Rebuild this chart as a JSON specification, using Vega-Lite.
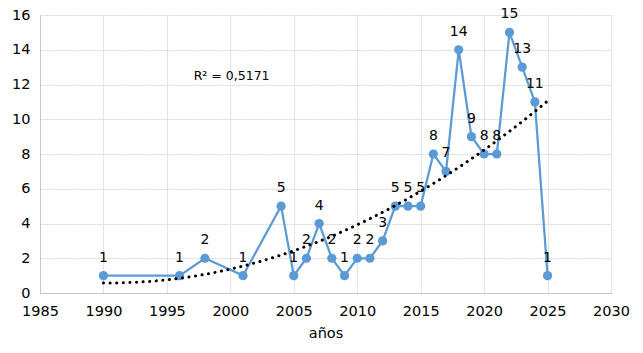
{
  "$schema": "https://vega.github.io/schema/vega-lite/v6.json",
  "autosize": {"type": "none"},
  "padding": {"left": 40, "top": 15, "right": 32, "bottom": 60},
  "width": 571,
  "height": 278,
  "background": "white",
  "config": {
    "view": {"stroke": null},
    "font": "DejaVu Sans"
  },
  "data": {
    "values": [
      {"year": 1990, "n": 1}, {"year": 1996, "n": 1}, {"year": 1998, "n": 2},
      {"year": 2001, "n": 1}, {"year": 2004, "n": 5}, {"year": 2005, "n": 1},
      {"year": 2006, "n": 2}, {"year": 2007, "n": 4}, {"year": 2008, "n": 2},
      {"year": 2009, "n": 1}, {"year": 2010, "n": 2}, {"year": 2011, "n": 2},
      {"year": 2012, "n": 3}, {"year": 2013, "n": 5}, {"year": 2014, "n": 5},
      {"year": 2015, "n": 5}, {"year": 2016, "n": 8}, {"year": 2017, "n": 7},
      {"year": 2018, "n": 14}, {"year": 2019, "n": 9}, {"year": 2020, "n": 8},
      {"year": 2021, "n": 8}, {"year": 2022, "n": 15}, {"year": 2023, "n": 13},
      {"year": 2024, "n": 11}, {"year": 2025, "n": 1}
    ]
  },
  "encoding": {
    "x": {
      "field": "year", "type": "quantitative",
      "scale": {"domain": [1985, 2030], "nice": false, "zero": false},
      "axis": {
        "title": "años", "values": [1985, 1990, 1995, 2000, 2005, 2010, 2015, 2020, 2025, 2030],
        "format": "d", "labelFontSize": 14.5, "labelColor": "#000", "titleFontSize": 14.5,
        "titleFontWeight": "normal", "titleColor": "#000", "titlePadding": 9,
        "labelPadding": 11, "ticks": false, "domainColor": "#c8c8c8",
        "gridColor": "#d6d6d6", "gridDash": [2, 1], "labelFlush": false
      }
    },
    "y": {
      "field": "n", "type": "quantitative",
      "scale": {"domain": [0, 16], "nice": false},
      "axis": {
        "title": null, "values": [0, 2, 4, 6, 8, 10, 12, 14, 16],
        "labelFontSize": 14.5, "labelColor": "#000", "labelPadding": 10,
        "ticks": false, "domainColor": "#c8c8c8",
        "gridColor": "#d6d6d6", "gridDash": [2, 1]
      }
    }
  },
  "layer": [
    {
      "mark": {"type": "line", "color": "#5b9bd5", "strokeWidth": 2.25,
               "point": {"filled": true, "size": 85, "color": "#5b9bd5", "opacity": 1}}
    },
    {
      "transform": [{"regression": "n", "on": "year", "method": "poly", "order": 2}],
      "mark": {"type": "line", "color": "#000", "strokeWidth": 3, "strokeDash": [0.1, 6.5], "strokeCap": "round"}
    },
    {
      "mark": {"type": "text", "dy": -18, "fontSize": 14, "color": "#000"},
      "encoding": {"text": {"field": "n", "type": "quantitative"}}
    },
    {
      "data": {"values": [{"year": 2000.1, "n": 12.5, "label": "R² = 0,5171"}]},
      "mark": {"type": "text", "fontSize": 12.5, "color": "#000", "baseline": "middle"},
      "encoding": {"text": {"field": "label"}}
    }
  ]
}
